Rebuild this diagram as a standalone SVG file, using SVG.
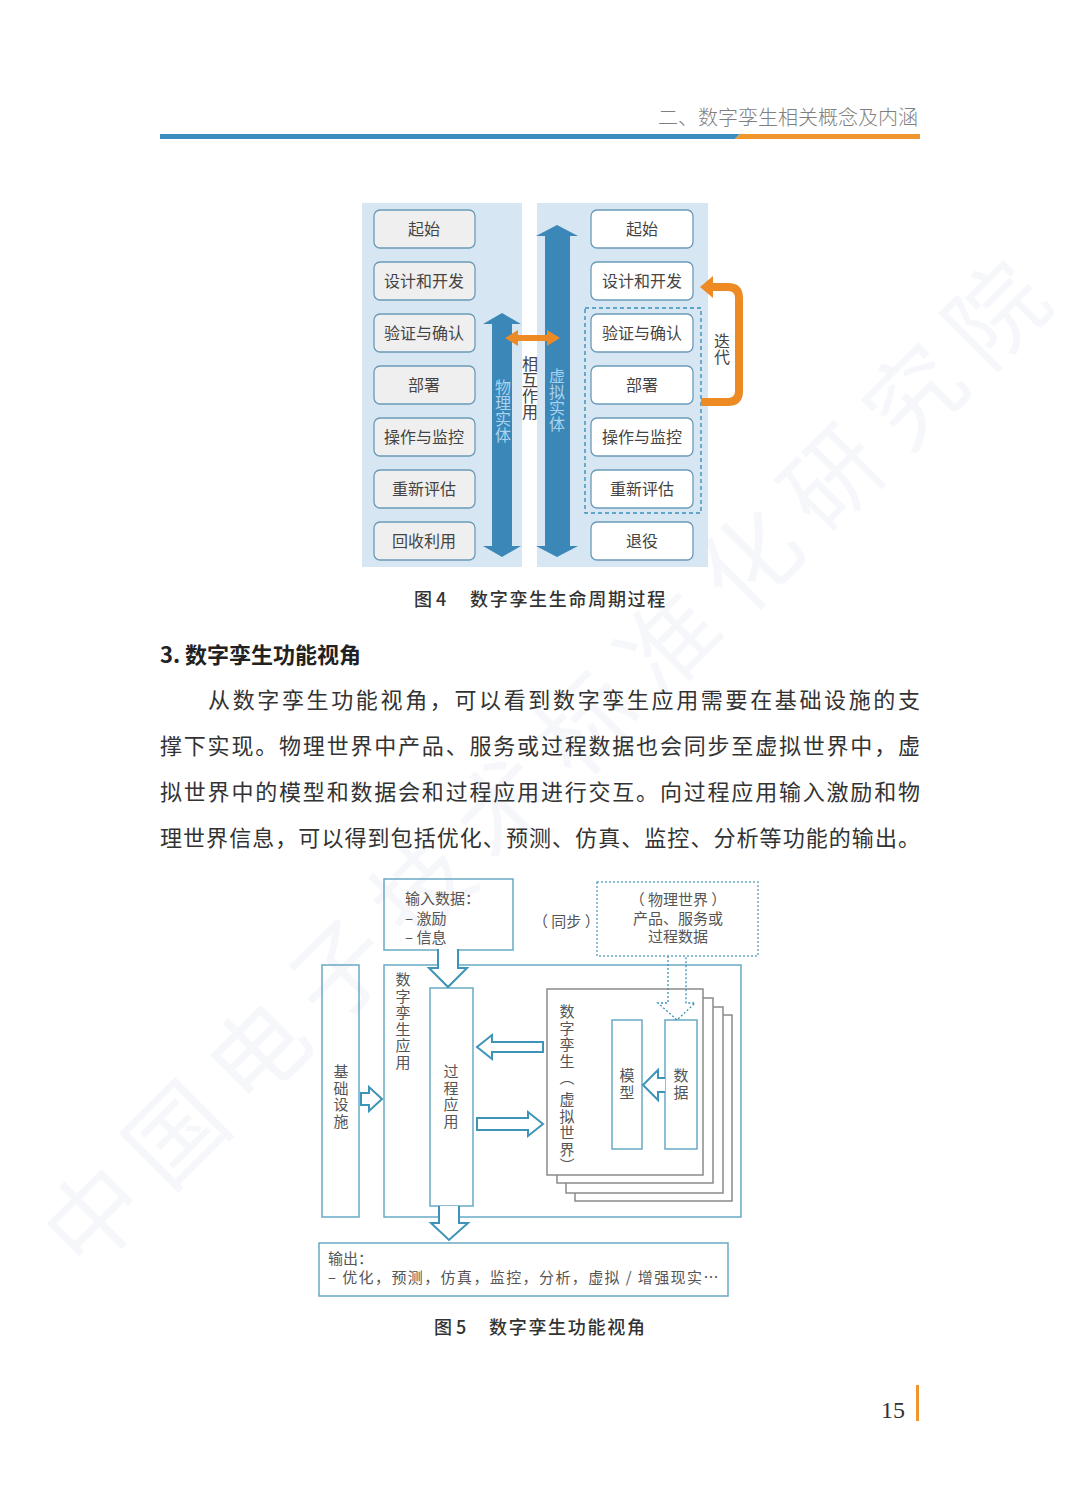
<svg xmlns="http://www.w3.org/2000/svg" width="1080" height="1509" viewBox="0 0 1080 1509">
<defs>
<style>
.cn{font-family:"Noto Sans CJK SC","Liberation Sans",sans-serif;}
.bx4{fill:#efefef;stroke:#6b9ab8;stroke-width:1.3;}
.bx4w{fill:#ffffff;stroke:#6b9ab8;stroke-width:1.3;}
.t4{font-size:16px;fill:#444;text-anchor:middle;}
.vt{writing-mode:vertical-rl;}
.vs{letter-spacing:1.5px;}
.b5{fill:none;stroke:#68a9c4;stroke-width:1.5;}
.h5{fill:#fff;stroke:#3d93b8;stroke-width:2;}
.t5{font-size:15px;fill:#555;}
.pg{fill:#fff;stroke:#8a8a8a;stroke-width:1.5;}
.para{font-size:22px;fill:#333;}
</style>
</defs>
<rect width="1080" height="1509" fill="#ffffff"/>
<text class="cn" x="0" y="0" transform="translate(85,1275) rotate(-45)" font-size="96" letter-spacing="20" fill="#dfe8f0" opacity="0.3">中国电子技术标准化研究院</text>

<g id="header">
<text class="cn" x="918" y="125" font-size="20" fill="#7f7f7f" text-anchor="end" font-weight="300">二、数字孪生相关概念及内涵</text>
<polygon points="160,134 740,134 735,139 160,139" fill="#3a8dbf"/>
<polygon points="740,134 920,134 920,139 735,139" fill="#f0962c"/>
</g>

<!-- Figure 4 -->
<g id="fig4-panels">
<rect x="362" y="203" width="160" height="364" fill="#d6e6f2"/>
<rect x="537" y="203" width="171" height="364" fill="#d6e6f2"/>
</g>
<g id="fig4-left">
<g id="l1"><rect class="bx4" x="374" y="210" width="101" height="38" rx="6"/><text class="cn t4" x="424" y="235">起始</text></g>
<g id="l2"><rect class="bx4" x="374" y="262" width="101" height="38" rx="6"/><text class="cn t4" x="424" y="287">设计和开发</text></g>
<g id="l3"><rect class="bx4" x="374" y="314" width="101" height="38" rx="6"/><text class="cn t4" x="424" y="339">验证与确认</text></g>
<g id="l4"><rect class="bx4" x="374" y="366" width="101" height="38" rx="6"/><text class="cn t4" x="424" y="391">部署</text></g>
<g id="l5"><rect class="bx4" x="374" y="418" width="101" height="38" rx="6"/><text class="cn t4" x="424" y="443">操作与监控</text></g>
<g id="l6"><rect class="bx4" x="374" y="470" width="101" height="38" rx="6"/><text class="cn t4" x="424" y="495">重新评估</text></g>
<g id="l7"><rect class="bx4" x="374" y="522" width="101" height="38" rx="6"/><text class="cn t4" x="424" y="547">回收利用</text></g>
</g>
<g id="fig4-right">
<rect x="585" y="308" width="116" height="205" fill="none" stroke="#3d8dbd" stroke-width="1.4" stroke-dasharray="4,3"/>
<g id="r1"><rect class="bx4w" x="591" y="210" width="102" height="38" rx="6"/><text class="cn t4" x="642" y="235">起始</text></g>
<g id="r2"><rect class="bx4w" x="591" y="262" width="102" height="38" rx="6"/><text class="cn t4" x="642" y="287">设计和开发</text></g>
<g id="r3"><rect class="bx4w" x="591" y="314" width="102" height="38" rx="6"/><text class="cn t4" x="642" y="339">验证与确认</text></g>
<g id="r4"><rect class="bx4w" x="591" y="366" width="102" height="38" rx="6"/><text class="cn t4" x="642" y="391">部署</text></g>
<g id="r5"><rect class="bx4w" x="591" y="418" width="102" height="38" rx="6"/><text class="cn t4" x="642" y="443">操作与监控</text></g>
<g id="r6"><rect class="bx4w" x="591" y="470" width="102" height="38" rx="6"/><text class="cn t4" x="642" y="495">重新评估</text></g>
<g id="r7"><rect class="bx4w" x="591" y="522" width="102" height="38" rx="6"/><text class="cn t4" x="642" y="547">退役</text></g>
</g>
<g id="fig4-arrows">
<polygon points="502,313 521,324 512,324 512,546 521,546 502,557 483,546 492,546 492,324 483,324" fill="#3a87b8"/>
<polygon points="557,225 578,236 570,236 570,546 578,546 557,557 536,546 545,546 545,236 536,236" fill="#3a87b8"/>
<text class="cn vt" x="503" y="379" font-size="16" fill="#a9d3ee">物理实体</text>
<text class="cn vt" x="557" y="368" font-size="16" fill="#a9d3ee">虚拟实体</text>
<polygon points="505,338 518,330 518,335 547,335 547,330 560,338 547,346 547,341 518,341 518,346" fill="#ee8a24"/>
<text class="cn vt" x="530" y="356" font-size="16" fill="#444">相互作用</text>
<path d="M701,402 H728 Q739,402 739,391 V298 Q739,287 728,287 H712" fill="none" stroke="#ee8a24" stroke-width="8"/>
<polygon points="700,287 713,276 713,298" fill="#ee8a24"/>
<text class="cn vt" x="722" y="333" font-size="16" fill="#444">迭代</text>
</g>
<text class="cn" x="414" y="606" font-size="18" fill="#333" font-weight="500">图 4</text>
<text class="cn" x="470" y="606" font-size="18" fill="#333" font-weight="500" letter-spacing="1.7">数字孪生生命周期过程</text>

<!-- Section and paragraph -->
<text class="cn" x="160" y="663" font-size="22" fill="#222" font-weight="700">3. 数字孪生功能视角</text>
<g id="paragraph" class="cn para">
<text x="208" y="708" textLength="712" lengthAdjust="spacing">从数字孪生功能视角，可以看到数字孪生应用需要在基础设施的支</text>
<text x="160" y="754" textLength="760" lengthAdjust="spacing">撑下实现。物理世界中产品、服务或过程数据也会同步至虚拟世界中，虚</text>
<text x="160" y="800" textLength="760" lengthAdjust="spacing">拟世界中的模型和数据会和过程应用进行交互。向过程应用输入激励和物</text>
<text x="160" y="846" textLength="760" lengthAdjust="spacing">理世界信息，可以得到包括优化、预测、仿真、监控、分析等功能的输出。</text>
</g>

<!-- Figure 5 -->
<g id="f5-app">
<rect class="b5" x="384" y="965" width="357" height="252"/>
<text class="cn t5 vt vs" x="403" y="972">数字孪生应用</text>
</g>
<g id="f5-infra">
<rect class="b5" x="322" y="965" width="37" height="252"/>
<text class="cn t5 vt vs" x="341" y="1064">基础设施</text>
</g>
<g id="f5-input">
<rect class="b5" x="384" y="879" width="129" height="71"/>
<text class="cn t5" x="405" y="904">输入数据：</text>
<text class="cn t5" x="405" y="924">– 激励</text>
<text class="cn t5" x="405" y="943">– 信息</text>
</g>
<text class="cn t5" x="533" y="927">（ 同步 ）</text>
<g id="f5-physical">
<rect x="597" y="882" width="161" height="74" fill="none" stroke="#68a9c4" stroke-width="1.5" stroke-dasharray="2,2"/>
<text class="cn t5" x="678" y="905" text-anchor="middle">（ 物理世界 ）</text>
<text class="cn t5" x="678" y="924" text-anchor="middle">产品、服务或</text>
<text class="cn t5" x="678" y="942" text-anchor="middle">过程数据</text>
</g>
<g id="f5-process">
<rect class="b5" x="430" y="988" width="43" height="218" fill="#fff"/>
<text class="cn t5 vt vs" x="451" y="1064">过程应用</text>
</g>
<g id="f5-twin">
<rect class="pg" x="575" y="1015" width="157" height="186"/>
<rect class="pg" x="566" y="1007" width="157" height="186"/>
<rect class="pg" x="557" y="998" width="156" height="185"/>
<rect class="pg" x="547" y="989" width="156" height="186"/>
<text class="cn t5 vt" x="567" y="1004"><tspan letter-spacing="1.5">数字孪生</tspan><tspan letter-spacing="7">（</tspan><tspan letter-spacing="1.5">虚拟世界</tspan>）</text>
</g>
<g id="f5-model">
<rect class="b5" x="612" y="1020" width="30" height="129" stroke-width="2" stroke="#3d93b8"/>
<text class="cn t5 vt vs" x="627" y="1068">模型</text>
</g>
<g id="f5-data">
<rect class="b5" x="665" y="1020" width="32" height="129" stroke-width="2" stroke="#3d93b8"/>
<text class="cn t5 vt vs" x="681" y="1068">数据</text>
</g>
<g id="f5-output">
<rect class="b5" x="319" y="1243" width="409" height="53"/>
<text class="cn t5" x="328" y="1264">输出：</text>
<text class="cn t5" x="328" y="1283" letter-spacing="1.4">– 优化，预测，仿真，监控，分析，虚拟 / 增强现实…</text>
</g>
<g id="connectors">
<path class="h5" d="M438,949 V968 H429 L448,987 L467,968 H458 V949"/>
<path class="h5" d="M439,1206 V1223 H431 L449,1240 L468,1223 H459 V1206"/>
<path class="h5" d="M543,1042 H492 V1035 L477,1047 L492,1059 V1052 H543 Z"/>
<path class="h5" d="M477,1118 H528 V1112 L543,1124 L528,1136 V1130 H477 Z"/>
<path class="h5" d="M361,1093 H369 V1087 L382,1099 L369,1111 V1105 H361 Z"/>
<path class="h5" d="M665,1078 H658 V1070 L643,1085 L658,1100 V1092 H665"/>
<path d="M668,956 V1003 H658 L677,1020 L695,1003 H686 V956" fill="none" stroke="#3d93b8" stroke-width="1.3" stroke-dasharray="2,2"/>
</g>
<text class="cn" x="434" y="1334" font-size="18" fill="#333" font-weight="500">图 5</text>
<text class="cn" x="489" y="1334" font-size="18" fill="#333" font-weight="500" letter-spacing="1.7">数字孪生功能视角</text>

<g id="footer">
<text x="893" y="1418" font-family="Liberation Serif, serif" font-size="24" fill="#333" text-anchor="middle">15</text>
<rect x="916" y="1385" width="3" height="36" fill="#f0962c"/>
</g>
</svg>
